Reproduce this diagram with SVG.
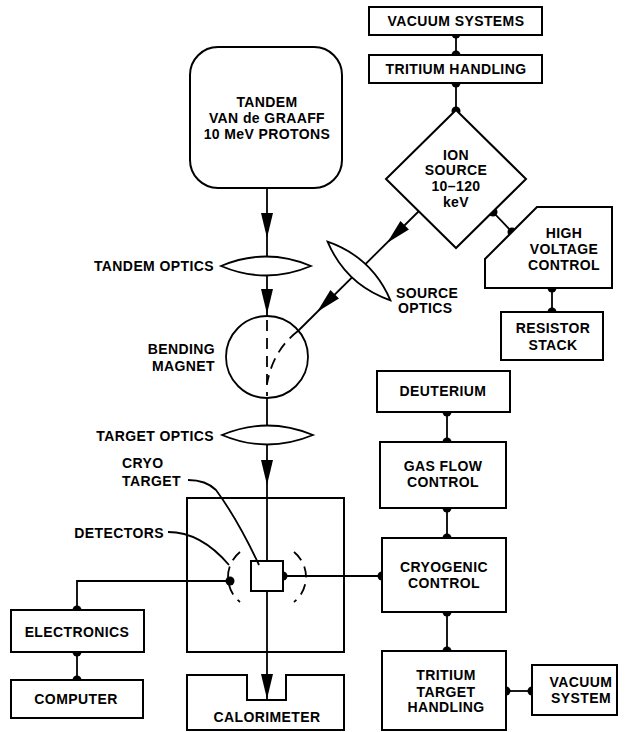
<svg xmlns="http://www.w3.org/2000/svg" xmlns:xlink="http://www.w3.org/1999/xlink" width="625" height="732" viewBox="0 0 625 732">
<style>
  .box{fill:#fff;stroke:#000;stroke-width:2}
  .ln{fill:none;stroke:#000;stroke-width:1.8}
  .dash{fill:none;stroke:#000;stroke-width:1.8;stroke-dasharray:11,7}
  .lens{fill:#fff;stroke:#000;stroke-width:1.8}
  .dot{fill:#000}
  text{font-family:"Liberation Sans",Arial,sans-serif;font-weight:bold;font-size:14px;letter-spacing:0.4px;fill:#000;text-anchor:middle}
  .st{text-anchor:start}
  .en{text-anchor:end}
</style>
<defs>
  <polygon id="ah" points="0,0 -6,-25 6,-25" fill="#000"/>
</defs>
<rect width="625" height="732" fill="#fff"/>

<g id="connectors">
  <line class="ln" x1="267" y1="188" x2="267" y2="316"/>
  <line class="ln" x1="267" y1="398" x2="267" y2="699"/>
  <use xlink:href="#ah" transform="translate(267,238)"/>
  <use xlink:href="#ah" transform="translate(267,314)"/>
  <use xlink:href="#ah" transform="translate(267,485)"/>
  <use xlink:href="#ah" transform="translate(267,699)"/>
  <line class="ln" x1="420" y1="210" x2="298" y2="331"/>
  <use xlink:href="#ah" transform="translate(387,243) rotate(45)"/>
  <use xlink:href="#ah" transform="translate(317,312) rotate(45)"/>
  <line class="ln" x1="456" y1="35" x2="456" y2="55"/>
  <line class="ln" x1="456" y1="83" x2="456" y2="110"/>
  <circle class="dot" cx="456" cy="34" r="4.5"/>
  <circle class="dot" cx="456" cy="55" r="4.5"/>
  <circle class="dot" cx="456" cy="83" r="4.5"/>
  <circle class="dot" cx="456" cy="111" r="4.5"/>
  <line class="ln" x1="493" y1="212" x2="512" y2="232"/>
  <circle class="dot" cx="493" cy="212" r="4.5"/>
  <circle class="dot" cx="512" cy="232" r="4.5"/>
  <line class="ln" x1="552" y1="288" x2="552" y2="312"/>
  <circle class="dot" cx="552" cy="288" r="4.5"/>
  <circle class="dot" cx="552" cy="312" r="4.5"/>
  <line class="ln" x1="447" y1="412" x2="447" y2="442"/>
  <circle class="dot" cx="447" cy="412" r="4.5"/>
  <circle class="dot" cx="447" cy="442" r="4.5"/>
  <line class="ln" x1="447" y1="508" x2="447" y2="538"/>
  <circle class="dot" cx="447" cy="508" r="4.5"/>
  <circle class="dot" cx="447" cy="538" r="4.5"/>
  <line class="ln" x1="447" y1="612" x2="447" y2="651"/>
  <circle class="dot" cx="447" cy="612" r="4.5"/>
  <circle class="dot" cx="447" cy="651" r="4.5"/>
  <line class="ln" x1="506" y1="691" x2="532" y2="691"/>
  <circle class="dot" cx="506" cy="691" r="4.5"/>
  <circle class="dot" cx="532" cy="691" r="4.5"/>
  <line class="ln" x1="283" y1="576" x2="382" y2="576"/>
  <circle class="dot" cx="283" cy="576" r="4.5"/>
  <circle class="dot" cx="382" cy="576" r="4.5"/>
  <polyline class="ln" points="230,581 77,581 77,610"/>
  <circle class="dot" cx="230" cy="581" r="4.5"/>
  <circle class="dot" cx="77" cy="610" r="4.5"/>
  <line class="ln" x1="77" y1="652" x2="77" y2="680"/>
  <circle class="dot" cx="77" cy="652" r="4.5"/>
  <circle class="dot" cx="77" cy="680" r="4.5"/>
</g>

<g id="tandem">
  <rect class="box" x="190" y="47" width="152" height="141" rx="28"/>
  <text x="267" y="107">TANDEM</text>
  <text x="267" y="123">VAN de GRAAFF</text>
  <text x="267" y="139">10 MeV PROTONS</text>
</g>

<g id="tandem-optics">
  <path class="lens" d="M221,266 Q266,247 311,266 Q266,285 221,266 Z"/>
  <text class="en" x="214" y="271">TANDEM OPTICS</text>
</g>

<g id="bending-magnet">
  <circle cx="267" cy="357" r="41" fill="none" stroke="#000" stroke-width="1.8"/>
  <line class="dash" x1="267" y1="320" x2="267" y2="396"/>
  <path class="dash" d="M298,331 Q273,350 267,384"/>
  <text class="en" x="215" y="354">BENDING</text>
  <text class="en" x="215" y="371">MAGNET</text>
</g>

<g id="target-optics">
  <path class="lens" d="M222,435 Q267,416 313,435 Q267,454 222,435 Z"/>
  <text class="en" x="214" y="441">TARGET OPTICS</text>
</g>

<g id="source-optics">
  <path class="lens" transform="translate(359,271) rotate(43)" d="M-43,0 Q0,-19 43,0 Q0,19 -43,0 Z"/>
  <text class="st" x="396" y="298">SOURCE</text>
  <text class="st" x="398" y="313">OPTICS</text>
</g>

<g id="vacuum-systems">
  <rect class="box" x="369" y="7" width="173" height="28"/>
  <text x="456" y="26">VACUUM SYSTEMS</text>
</g>

<g id="tritium-handling">
  <rect class="box" x="369" y="55" width="173" height="28"/>
  <text x="456" y="74">TRITIUM HANDLING</text>
</g>

<g id="ion-source">
  <polygon class="box" points="456,110 526,179 456,248 386,179"/>
  <text x="456" y="160">ION</text>
  <text x="456" y="175">SOURCE</text>
  <text x="456" y="191">10–120</text>
  <text x="456" y="207">keV</text>
</g>

<g id="hv-control">
  <polygon class="box" points="537,207 612,207 612,288 485,288 485,259"/>
  <text x="564" y="238">HIGH</text>
  <text x="564" y="254">VOLTAGE</text>
  <text x="564" y="270">CONTROL</text>
</g>

<g id="resistor-stack">
  <rect class="box" x="501" y="312" width="102" height="48"/>
  <text x="553" y="333">RESISTOR</text>
  <text x="553" y="350">STACK</text>
</g>

<g id="deuterium">
  <rect class="box" x="377" y="371" width="133" height="41"/>
  <text x="443" y="396">DEUTERIUM</text>
</g>

<g id="gas-flow">
  <rect class="box" x="380" y="442" width="126" height="66"/>
  <text x="443" y="471">GAS FLOW</text>
  <text x="443" y="487">CONTROL</text>
</g>

<g id="cryogenic">
  <rect class="box" x="382" y="538" width="124" height="74"/>
  <text x="444" y="572">CRYOGENIC</text>
  <text x="444" y="588">CONTROL</text>
</g>

<g id="tritium-target">
  <rect class="box" x="382" y="651" width="124" height="79"/>
  <text x="446" y="680">TRITIUM</text>
  <text x="446" y="697">TARGET</text>
  <text x="446" y="712">HANDLING</text>
</g>

<g id="vacuum-system">
  <rect class="box" x="532" y="665" width="85" height="50"/>
  <text x="581" y="687">VACUUM</text>
  <text x="581" y="703">SYSTEM</text>
</g>

<g id="target-chamber">
  <rect x="187" y="498" width="157" height="154" fill="none" stroke="#000" stroke-width="2"/>
  <rect class="box" x="251" y="561" width="32" height="30"/>
  <path class="dash" d="M240,552 A32,32 0 0,0 240,602"/>
  <path class="dash" d="M294,552 A32,32 0 0,1 294,602"/>
  <path class="ln" d="M188,480 Q206,480 216,490 Q238,520 259,565"/>
  <path class="ln" d="M168,532 C192,532 212,545 229,565"/>
  <text class="st" x="122" y="468">CRYO</text>
  <text class="st" x="122" y="486">TARGET</text>
  <text class="en" x="164" y="538">DETECTORS</text>
</g>

<g id="calorimeter">
  <path class="box" d="M187,730 V675 H247 V700 H286 V675 H344 V730 Z"/>
  <text x="267" y="722">CALORIMETER</text>
</g>

<g id="electronics">
  <rect class="box" x="11" y="610" width="133" height="42"/>
  <text x="77" y="637">ELECTRONICS</text>
</g>

<g id="computer">
  <rect class="box" x="11" y="680" width="132" height="38"/>
  <text x="76" y="704">COMPUTER</text>
</g>
</svg>
